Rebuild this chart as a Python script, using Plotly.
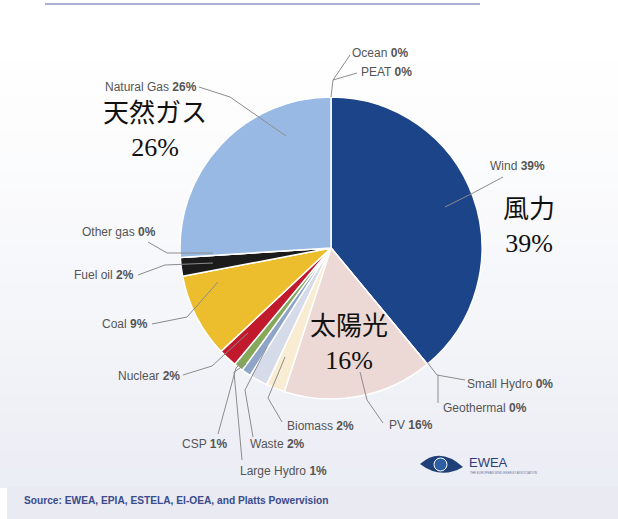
import plotly.graph_objects as go

# ---------------- data ----------------
categories = ["Ocean", "PEAT", "Wind", "Small Hydro", "Geothermal", "PV", "Biomass",
              "Waste", "Large Hydro", "CSP", "Nuclear", "Coal", "Fuel oil", "Other gas",
              "Natural Gas"]
shares = [0, 0, 39, 0, 0, 16, 2, 2, 1, 1, 2, 9, 2, 0, 26]
slice_colors = ["#ffffff", "#ffffff", "#1c4489", "#ffffff", "#ffffff", "#ecd9d5", "#f8edd3",
                "#d5dbe8", "#8ea5c8", "#85a85a", "#c01a2c", "#ecbe2e", "#1b1b1b", "#ffffff",
                "#98b9e4"]
jp_labels = ["天然ガス<br>26%", "風力<br>39%", "太陽光<br>16%"]
source_text = "Source: EWEA, EPIA, ESTELA, EI-OEA, and Platts Powervision"

W, H = 618, 519
cx, cy, R = 331, 248, 151

fig = go.Figure()

# background gradient bands
top = (255, 255, 255)
bot = (236, 238, 245)
n = 24
for i in range(n):
    t = i / (n - 1)
    c = tuple(int(top[k] + (bot[k] - top[k]) * (t ** 1.3)) for k in range(3))
    y0 = 40 + i * (487 - 40) / n
    y1 = 40 + (i + 1) * (487 - 40) / n + 1
    fig.add_shape(type="rect", xref="x", yref="y", x0=0, x1=W, y0=y0, y1=y1,
                  line=dict(width=0), fillcolor="rgb(%d,%d,%d)" % c, layer="below")
# bottom source band
fig.add_shape(type="rect", xref="x", yref="y", x0=7, x1=W, y0=487, y1=H,
              line=dict(width=0), fillcolor="#e9eaf2", layer="below")
# top rule
fig.add_shape(type="line", xref="x", yref="y", x0=45, x1=480, y0=4, y1=4,
              line=dict(color="#aab0d2", width=2))

fig.add_trace(go.Pie(
    labels=categories, values=shares, sort=False, direction="clockwise", rotation=0,
    marker=dict(colors=slice_colors, line=dict(color="#ffffff", width=1.5)),
    textinfo="none", hoverinfo="label+percent", showlegend=False,
    domain=dict(x=[(cx - R) / W, (cx + R) / W], y=[1 - (cy + R) / H, 1 - (cy - R) / H]),
))

# leader lines (pixel coordinates on overlay axes), drawn above the pie
leaders = [
    [(350, 55), (333, 80), (331, 97)],            # Ocean
    [(357, 73), (333, 80)],                       # PEAT
    [(199, 87), (230, 97), (286, 136)],           # Natural Gas
    [(503, 177), (473, 193), (445, 207)],         # Wind
    [(148, 242), (167, 253), (213, 253)],         # Other gas
    [(138, 275), (165, 265), (213, 263)],         # Fuel oil
    [(152, 324), (187, 317), (218, 282)],         # Coal
    [(183, 375), (212, 366), (248, 333)],         # Nuclear
    [(218, 434), (236, 368), (242, 362)],         # CSP
    [(242, 460), (234, 372), (246, 364)],         # Large Hydro
    [(253, 437), (245, 390), (267, 347)],         # Waste
    [(282, 422), (268, 398), (285, 357)],         # Biomass
    [(383, 423), (367, 400), (360, 372)],         # PV
    [(465, 380), (437, 375), (427, 362)],         # Small Hydro
    [(438, 403), (438, 375)],                     # Geothermal
]
for pts in leaders:
    path = "M " + " L ".join("%g %g" % p for p in pts)
    fig.add_shape(type="path", xref="x", yref="y", path=path, layer="above",
                  line=dict(color="#8c8c8c", width=1))

# English labels
lab_font = dict(family="Liberation Sans, Arial, sans-serif", size=12, color="#555555")
en_labels = [
    ("Ocean", "0%", 350, 53, "left"),
    ("PEAT", "0%", 359, 72, "left"),
    ("Natural Gas", "26%", 199, 87, "right"),
    ("Wind", "39%", 488, 166, "left"),
    ("Other gas", "0%", 158, 232, "right"),
    ("Fuel oil", "2%", 136, 275, "right"),
    ("Coal", "9%", 150, 324, "right"),
    ("Nuclear", "2%", 182, 376, "right"),
    ("CSP", "1%", 180, 444, "left"),
    ("Waste", "2%", 248, 444, "left"),
    ("Large Hydro", "1%", 238, 471, "left"),
    ("Biomass", "2%", 285, 426, "left"),
    ("PV", "16%", 387, 425, "left"),
    ("Small Hydro", "0%", 465, 384, "left"),
    ("Geothermal", "0%", 441, 408, "left"),
]
for name, pct, x, y, anc in en_labels:
    fig.add_annotation(x=x, y=y, xref="x", yref="y", showarrow=False, xanchor=anc,
                       yanchor="middle", text="%s <b>%s</b>" % (name, pct), font=lab_font)

# Japanese labels
jp_font = dict(family="Liberation Serif, Noto Sans CJK JP, serif", size=26, color="#111111")
jp_pos = [(155, 130), (529, 226), (349, 343)]
for txt, (x, y) in zip(jp_labels, jp_pos):
    fig.add_annotation(x=x, y=y, xref="x", yref="y", showarrow=False, xanchor="center",
                       yanchor="middle", text=txt, font=jp_font, align="center")

# source
fig.add_annotation(x=22, y=500, xref="x", yref="y", showarrow=False, xanchor="left",
                   yanchor="middle", text="<b>%s</b>" % source_text,
                   font=dict(family="Liberation Sans, Arial", size=10.2, color="#3b4b8c"))

# EWEA logo
fig.add_shape(type="path", xref="x", yref="y", layer="above",
              path="M 420 464 Q 440 446 463 467 Q 441 480 420 464 Z",
              fillcolor="#1e3f78", line=dict(width=0))
fig.add_shape(type="circle", xref="x", yref="y", layer="above", x0=434, x1=447, y0=458, y1=471,
              fillcolor="#2f5fa3", line=dict(color="#ffffff", width=1))
fig.add_annotation(x=467, y=462, xref="x", yref="y", showarrow=False, xanchor="left",
                   yanchor="middle", text="EWEA",
                   font=dict(family="Liberation Sans, Arial", size=13, color="#2b3f7a"))
fig.add_annotation(x=468, y=473, xref="x", yref="y", showarrow=False, xanchor="left",
                   yanchor="middle", text="THE EUROPEAN WIND ENERGY ASSOCIATION",
                   font=dict(family="Liberation Sans, Arial", size=3, color="#6a7597"))

fig.update_layout(
    width=W, height=H, margin=dict(l=0, r=0, t=0, b=0),
    paper_bgcolor="#ffffff", plot_bgcolor="rgba(0,0,0,0)",
    xaxis=dict(range=[0, W], visible=False, fixedrange=True, domain=[0, 1]),
    yaxis=dict(range=[H, 0], visible=False, fixedrange=True, domain=[0, 1]),
)

fig.write_html("out.html")
